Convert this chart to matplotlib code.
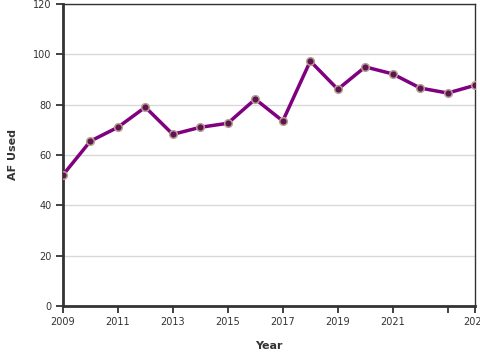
import matplotlib.pyplot as plt

years = [2009, 2010, 2011, 2012, 2013, 2014, 2015, 2016,
         2017, 2018, 2019, 2020, 2021, 2022, 2023, 2024]
af_used = [52, 65.5, 71, 79, 68.2, 71, 72.6, 82.2,
           73.5, 97.3, 86.1, 95, 92.2, 86.6, 84.6, 87.7]
xticks = [2009, 2011, 2013, 2015, 2017, 2019, 2021, 2023, 2024]
xtick_labels = ['2009', '2011', '2013', '2015', '2017', '2019', '2021', '', '2024']

fig = plt.figure(figsize=(4.8, 3.6), dpi=100)
ax = fig.add_axes([0.131, 0.15, 0.859, 0.839])

ax.plot(years, af_used, color='#800080', lw=2.5, zorder=3,
        marker='o', markersize=5.5, markerfacecolor='#5e1450',
        markeredgecolor='#b8a090', markeredgewidth=1.1)

ax.set_xlim(2009, 2024)
ax.set_ylim(0, 120)
ax.set_xticks(xticks)
ax.set_xticklabels(xtick_labels)
ax.set_yticks(range(0, 121, 20))
ax.grid(axis='y', color='#d9d9d9', lw=1)
ax.set_axisbelow(True)

for s in ['left', 'bottom']:
    ax.spines[s].set_linewidth(2)
    ax.spines[s].set_color('#333333')
for s in ['top', 'right']:
    ax.spines[s].set_linewidth(1)
    ax.spines[s].set_color('#333333')

ax.tick_params(length=5, width=1.3, color='#333333', labelsize=7,
               labelcolor='#333333', pad=3)
ax.set_xlabel('Year', fontsize=8, fontweight='bold', color='#333333', labelpad=10)
ax.set_ylabel('AF Used', fontsize=8, fontweight='bold', color='#333333', labelpad=11)

fig.savefig('out.png', dpi=100)
